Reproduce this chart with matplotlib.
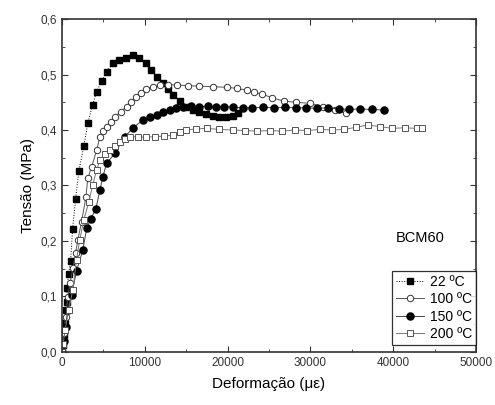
import matplotlib

matplotlib.use("Agg")

import matplotlib.pyplot as plt
from matplotlib.ticker import FuncFormatter, MultipleLocator

plt.rcParams["font.family"] = ["Liberation Sans", "DejaVu Sans"]

# 22 ºC
strain_22 = [0, 150, 300, 400, 500, 560, 650, 800, 1050, 1300, 1650, 2050, 2650,
             3130, 3700, 4200, 4800, 5400, 6150, 6900, 7700, 8550, 9300, 10200,
             10800, 11450, 12200, 12800, 13400, 14200, 15000, 15800, 16600,
             17400, 18200, 19000, 19800, 20600, 21300]
stress_22 = [0.0, 0.012, 0.03, 0.052, 0.076, 0.09, 0.115, 0.14, 0.164, 0.222, 0.275,
             0.326, 0.371, 0.412, 0.445, 0.469, 0.488, 0.505, 0.52, 0.527, 0.53,
             0.535, 0.53, 0.52, 0.508, 0.496, 0.485, 0.474, 0.463, 0.452, 0.442,
             0.436, 0.432, 0.428, 0.425, 0.424, 0.423, 0.425, 0.43]

# 100 ºC
strain_100 = [0, 100, 250, 450, 720, 1000, 1350, 1650, 1930, 2370, 2900, 3130,
              3600, 4200, 4600, 5000, 5400, 5900, 6400, 7100, 7800, 8400, 9000,
              9600, 10200, 11000, 11800, 12800, 13850, 15200, 16600, 18200,
              19900, 21100, 22300, 23200, 24100, 25400, 26800, 28300, 29900,
              31500, 33000, 34300]
stress_100 = [0.0, 0.012, 0.035, 0.063, 0.099, 0.125, 0.152, 0.178, 0.202, 0.234,
              0.279, 0.313, 0.334, 0.364, 0.388, 0.398, 0.406, 0.415, 0.424, 0.433,
              0.442, 0.451, 0.46, 0.467, 0.474, 0.478, 0.481, 0.482, 0.481, 0.48,
              0.479, 0.478, 0.477, 0.475, 0.472, 0.468, 0.465, 0.458, 0.452, 0.45,
              0.448, 0.442, 0.436, 0.43]

# 150 ºC
strain_150 = [0, 200, 450, 690, 1170, 1770, 2530, 3000, 3500, 4100, 4600, 4950,
              5400, 6400, 7600, 8550, 9750, 10600, 11450, 12200, 13000, 13800,
              14600, 15600, 16600, 17600, 18600, 19600, 20600, 21800, 23000,
              24300, 25600, 26900, 28200, 29500, 30800, 32100, 33400, 34700,
              36000, 37400, 38900]
stress_150 = [0.0, 0.02, 0.045, 0.076, 0.103, 0.146, 0.184, 0.223, 0.24, 0.258,
              0.292, 0.316, 0.34, 0.358, 0.388, 0.403, 0.418, 0.423, 0.427, 0.432,
              0.436, 0.44, 0.442, 0.443, 0.442, 0.443, 0.442, 0.442, 0.441, 0.44,
              0.44, 0.441, 0.44, 0.441, 0.44, 0.44, 0.439, 0.44, 0.438, 0.437,
              0.438, 0.437, 0.436]

# 200 ºC
strain_200 = [0, 150, 400, 800, 1330, 1770, 2150, 2650, 3250, 3700, 4200, 4600,
              5200, 5800, 6400, 7000, 7600, 8200, 9200, 10200, 11200, 12300, 13400,
              14200, 15000, 16200, 17500, 19000, 20600, 22100, 23600, 25100,
              26600, 28100, 29600, 31100, 32600, 34100, 35500, 36900, 38400,
              39900, 41400, 42800, 43500]
stress_200 = [0.0, 0.015, 0.04, 0.075, 0.112, 0.166, 0.202, 0.238, 0.27, 0.3,
              0.328, 0.346, 0.356, 0.364, 0.372, 0.378, 0.384, 0.388, 0.388,
              0.387, 0.388, 0.389, 0.391, 0.396, 0.4, 0.402, 0.403, 0.401, 0.4,
              0.399, 0.398, 0.399, 0.398, 0.4, 0.399, 0.401, 0.4, 0.401, 0.405,
              0.409, 0.406, 0.403, 0.404, 0.403, 0.403]

fig = plt.figure(figsize=(4.95, 4.05), dpi=100)
ax = fig.add_axes([0.125, 0.131, 0.837, 0.822])

ms = 4.6
ax.plot(strain_22, stress_22, color="black", linestyle=":", linewidth=0.7,
        marker="s", markersize=ms, markerfacecolor="black", markeredgecolor="black",
        label="22 ºC")
ax.plot(strain_100, stress_100, color="#555555", linewidth=0.7,
        marker="o", markersize=ms, markerfacecolor="white", markeredgecolor="#333333",
        markeredgewidth=0.7, label="100 ºC")
ax.plot(strain_150, stress_150, color="#444444", linewidth=0.7,
        marker="o", markersize=ms + 0.5, markerfacecolor="black", markeredgecolor="black",
        label="150 ºC")
ax.plot(strain_200, stress_200, color="#777777", linewidth=0.7,
        marker="s", markersize=ms + 0.3, markerfacecolor="white", markeredgecolor="#555555",
        markeredgewidth=0.7, label="200 ºC")

ax.set_xlim(0, 50000)
ax.set_ylim(0, 0.6)
ax.xaxis.set_major_locator(MultipleLocator(10000))
ax.xaxis.set_minor_locator(MultipleLocator(5000))
ax.yaxis.set_major_locator(MultipleLocator(0.1))
ax.yaxis.set_minor_locator(MultipleLocator(0.05))
ax.yaxis.set_major_formatter(FuncFormatter(lambda v, _: f"{v:.1f}".replace(".", ",")))
ax.tick_params(which="both", direction="in", top=True, right=True, labelsize=8.5,
               colors="#333333")
ax.tick_params(which="major", length=4)
ax.tick_params(which="minor", length=2.5)
for spine in ax.spines.values():
    spine.set_linewidth(1.2)
    spine.set_color("#333333")

ax.set_xlabel("Deformação (με)", fontsize=11, labelpad=6)
ax.set_ylabel("Tensão (MPa)", fontsize=11, labelpad=4)

ax.text(0.865, 0.342, "BCM60", transform=ax.transAxes, fontsize=10.5,
        ha="center", va="center")
legend = ax.legend(loc="lower right", bbox_to_anchor=(1.0, 0.02), fontsize=10,
                   frameon=True, fancybox=False, edgecolor="black", handlelength=2.0,
                   handletextpad=0.4, borderpad=0.3, labelspacing=0.25,
                   borderaxespad=0.0)
legend.get_frame().set_linewidth(0.9)

fig.savefig("out.png", dpi=100)
